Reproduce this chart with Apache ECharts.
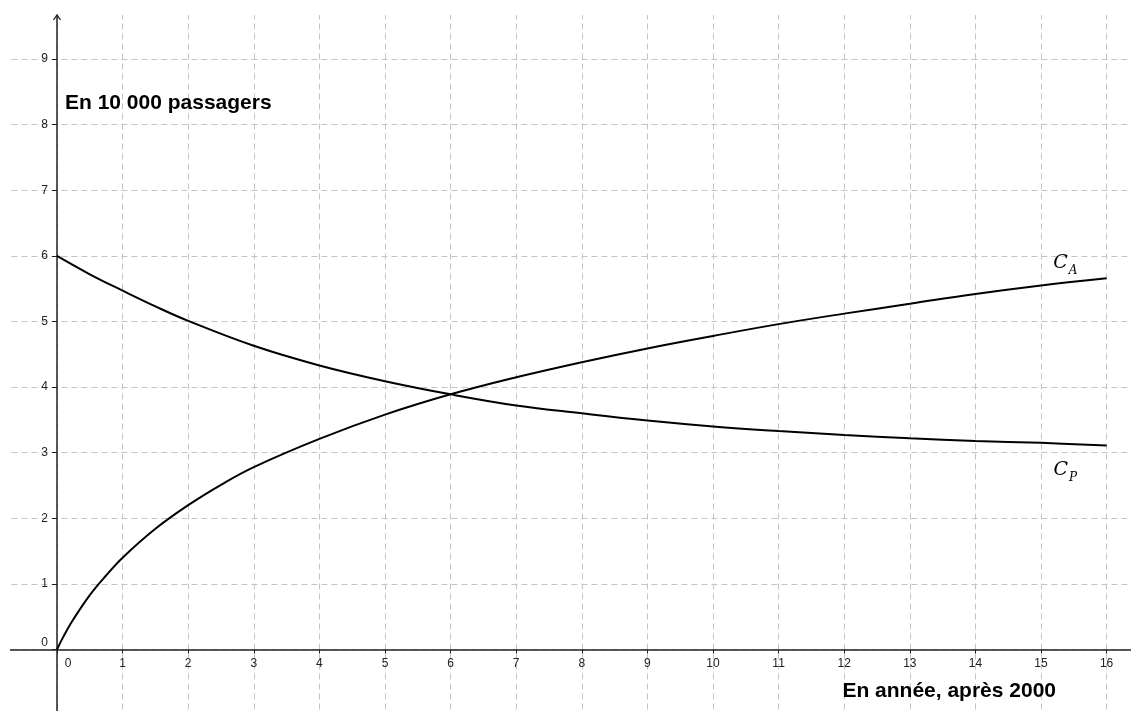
<!DOCTYPE html>
<html>
<head>
<meta charset="utf-8">
<script src="https://cdn.jsdelivr.net/npm/echarts@6/dist/echarts.min.js"></script>
<style>
html,body{margin:0;padding:0;background:#fff;}
#chart{width:1131px;height:711px;}
</style>
</head>
<body>
<div id="chart"></div>
<script>
// Data
var xA = [0, 0.1, 0.25, 0.5, 0.75, 1, 1.5, 2, 2.5, 3, 4, 5, 6, 7, 8, 9, 10, 11, 12, 13, 14, 15, 16];
var yA = [0, 0.2, 0.46, 0.83, 1.13, 1.4, 1.84, 2.2, 2.51, 2.78, 3.21, 3.58, 3.89, 4.15, 4.38, 4.59, 4.78, 4.96, 5.12, 5.27, 5.42, 5.55, 5.66];
var xP = [0, 0.5, 1, 1.5, 2, 3, 4, 5, 6, 7, 8, 9, 10, 11, 12, 13, 14, 15, 16];
var yP = [6, 5.72, 5.47, 5.23, 5.01, 4.63, 4.33, 4.09, 3.89, 3.72, 3.6, 3.49, 3.4, 3.33, 3.27, 3.22, 3.18, 3.15, 3.11];
var xTickMin = 0, xTickMax = 16;   // tick labels 0..16
var yTickMin = 0, yTickMax = 10;   // tick labels 0..9 (10 off-screen)
var labelA = ['C', 'A'];
var labelP = ['C', 'P'];
var labelAPos = [15.37, 5.87];
var labelPPos = [15.37, 2.71];
var yTitle = 'En 10 000 passagers';
var xTitle = 'En année, après 2000';

function zip(xs, ys) { return xs.map(function (x, i) { return [x, ys[i]]; }); }

var U = 65.6;        // pixels per unit
var OX = 57, OY = 649.5; // origin in pixels
var chart = echarts.init(document.getElementById('chart'));
var rich = {
  c: { fontFamily: 'DejaVu Serif', fontStyle: 'italic', fontSize: 19, color: '#000', lineHeight: 22, verticalAlign: 'top' },
  s: { fontFamily: 'DejaVu Serif', fontStyle: 'italic', fontSize: 12, color: '#000', lineHeight: 12, padding: [11, 0, 0, 1], verticalAlign: 'top' }
};
function mp(pos, lab) {
  return {
    symbol: 'circle', symbolSize: 1, silent: true,
    itemStyle: { color: 'rgba(0,0,0,0)' },
    label: { show: true, position: 'inside', formatter: '{c|' + lab[0] + '}{s|' + lab[1] + '}', rich: rich },
    data: [{ coord: pos, value: 0 }]
  };
}
var gridLine = { show: true, lineStyle: { color: '#c4c4c4', type: [6, 4], width: 1 } };
var axisCol = '#222';
var labFont = { color: axisCol, fontSize: 12, fontFamily: 'Liberation Sans' };
var option = {
  animation: false,
  backgroundColor: '#fff',
  grid: [
    { // full drawing area incl. negative side, for grid lines + curves
      left: OX - U, top: OY - 10 * U, width: 18 * U, height: 11 * U,
      containLabel: false, outerBoundsMode: 'none'
    },
    { // positive quadrant, for tick labels next to the axes
      left: OX, top: OY - 10 * U, width: 16 * U, height: 10 * U,
      containLabel: false, outerBoundsMode: 'none'
    }
  ],
  xAxis: [
    {
      gridIndex: 0, type: 'value', min: -1, max: 17, interval: 1,
      axisLine: { show: true, onZero: true, lineStyle: { color: axisCol, width: 1.5 } },
      axisTick: { show: false }, axisLabel: { show: false },
      splitLine: gridLine
    },
    {
      gridIndex: 1, type: 'value', min: xTickMin, max: xTickMax, interval: 1,
      axisLine: { show: false, onZero: false },
      axisTick: { show: true, length: 4, lineStyle: { color: axisCol } },
      axisLabel: Object.assign({
        margin: 8,
        formatter: function (v) { return v === 0 ? '{z|0}' : String(v); },
        rich: { z: Object.assign({ padding: [0, 0, 0, 22] }, labFont) }
      }, labFont),
      splitLine: { show: false }
    }
  ],
  yAxis: [
    {
      gridIndex: 0, type: 'value', min: -1, max: 10, interval: 1,
      axisLine: { show: true, onZero: true, lineStyle: { color: axisCol, width: 1.5 } },
      axisTick: { show: false }, axisLabel: { show: false },
      splitLine: gridLine
    },
    {
      gridIndex: 1, type: 'value', min: yTickMin, max: yTickMax, interval: 1,
      axisLine: { show: false, onZero: false },
      axisTick: { show: true, length: 5, lineStyle: { color: axisCol } },
      axisLabel: Object.assign({
        margin: 9,
        formatter: function (v) { return v === 0 ? '{z|0}' : String(v); },
        rich: { z: Object.assign({ padding: [0, 0, 14, 0] }, labFont) }
      }, labFont),
      splitLine: { show: false }
    }
  ],
  series: [
    {
      type: 'line', name: 'CA', xAxisIndex: 0, yAxisIndex: 0, data: zip(xA, yA), smooth: 0.4, symbol: 'none',
      lineStyle: { color: '#000', width: 2 }, z: 3,
      markPoint: mp(labelAPos, labelA)
    },
    {
      type: 'line', name: 'CP', xAxisIndex: 0, yAxisIndex: 0, data: zip(xP, yP), smooth: 0.4, symbol: 'none',
      lineStyle: { color: '#000', width: 2 }, z: 3,
      markPoint: mp(labelPPos, labelP)
    }
  ]
};
chart.setOption(option);

var o = chart.convertToPixel({ gridIndex: 0 }, [0, 0]);
chart.setOption({
  graphic: [
    { type: 'rect', z: 1, silent: true, shape: { x: 0, y: 0, width: 10, height: 711 }, style: { fill: '#fff' } },
    { type: 'rect', z: 1, silent: true, shape: { x: 0, y: 0, width: 1131, height: 15 }, style: { fill: '#fff' } },
    { type: 'polyline', z: 5, silent: true, shape: { points: [[o[0] - 3.5, 20], [o[0], 15], [o[0] + 3.5, 20]] }, style: { stroke: axisCol, lineWidth: 1.3, fill: null } },
    { type: 'text', z: 5, x: 65, y: 103, style: { text: yTitle, font: 'bold 21px "Liberation Sans", Arial, sans-serif', fill: '#000', textVerticalAlign: 'middle', verticalAlign: 'middle' } },
    { type: 'text', z: 5, x: 1056, y: 691, style: { text: xTitle, font: 'bold 21px "Liberation Sans", Arial, sans-serif', fill: '#000', align: 'right', textAlign: 'right', textVerticalAlign: 'middle', verticalAlign: 'middle' } }
  ]
});
</script>
</body>
</html>
